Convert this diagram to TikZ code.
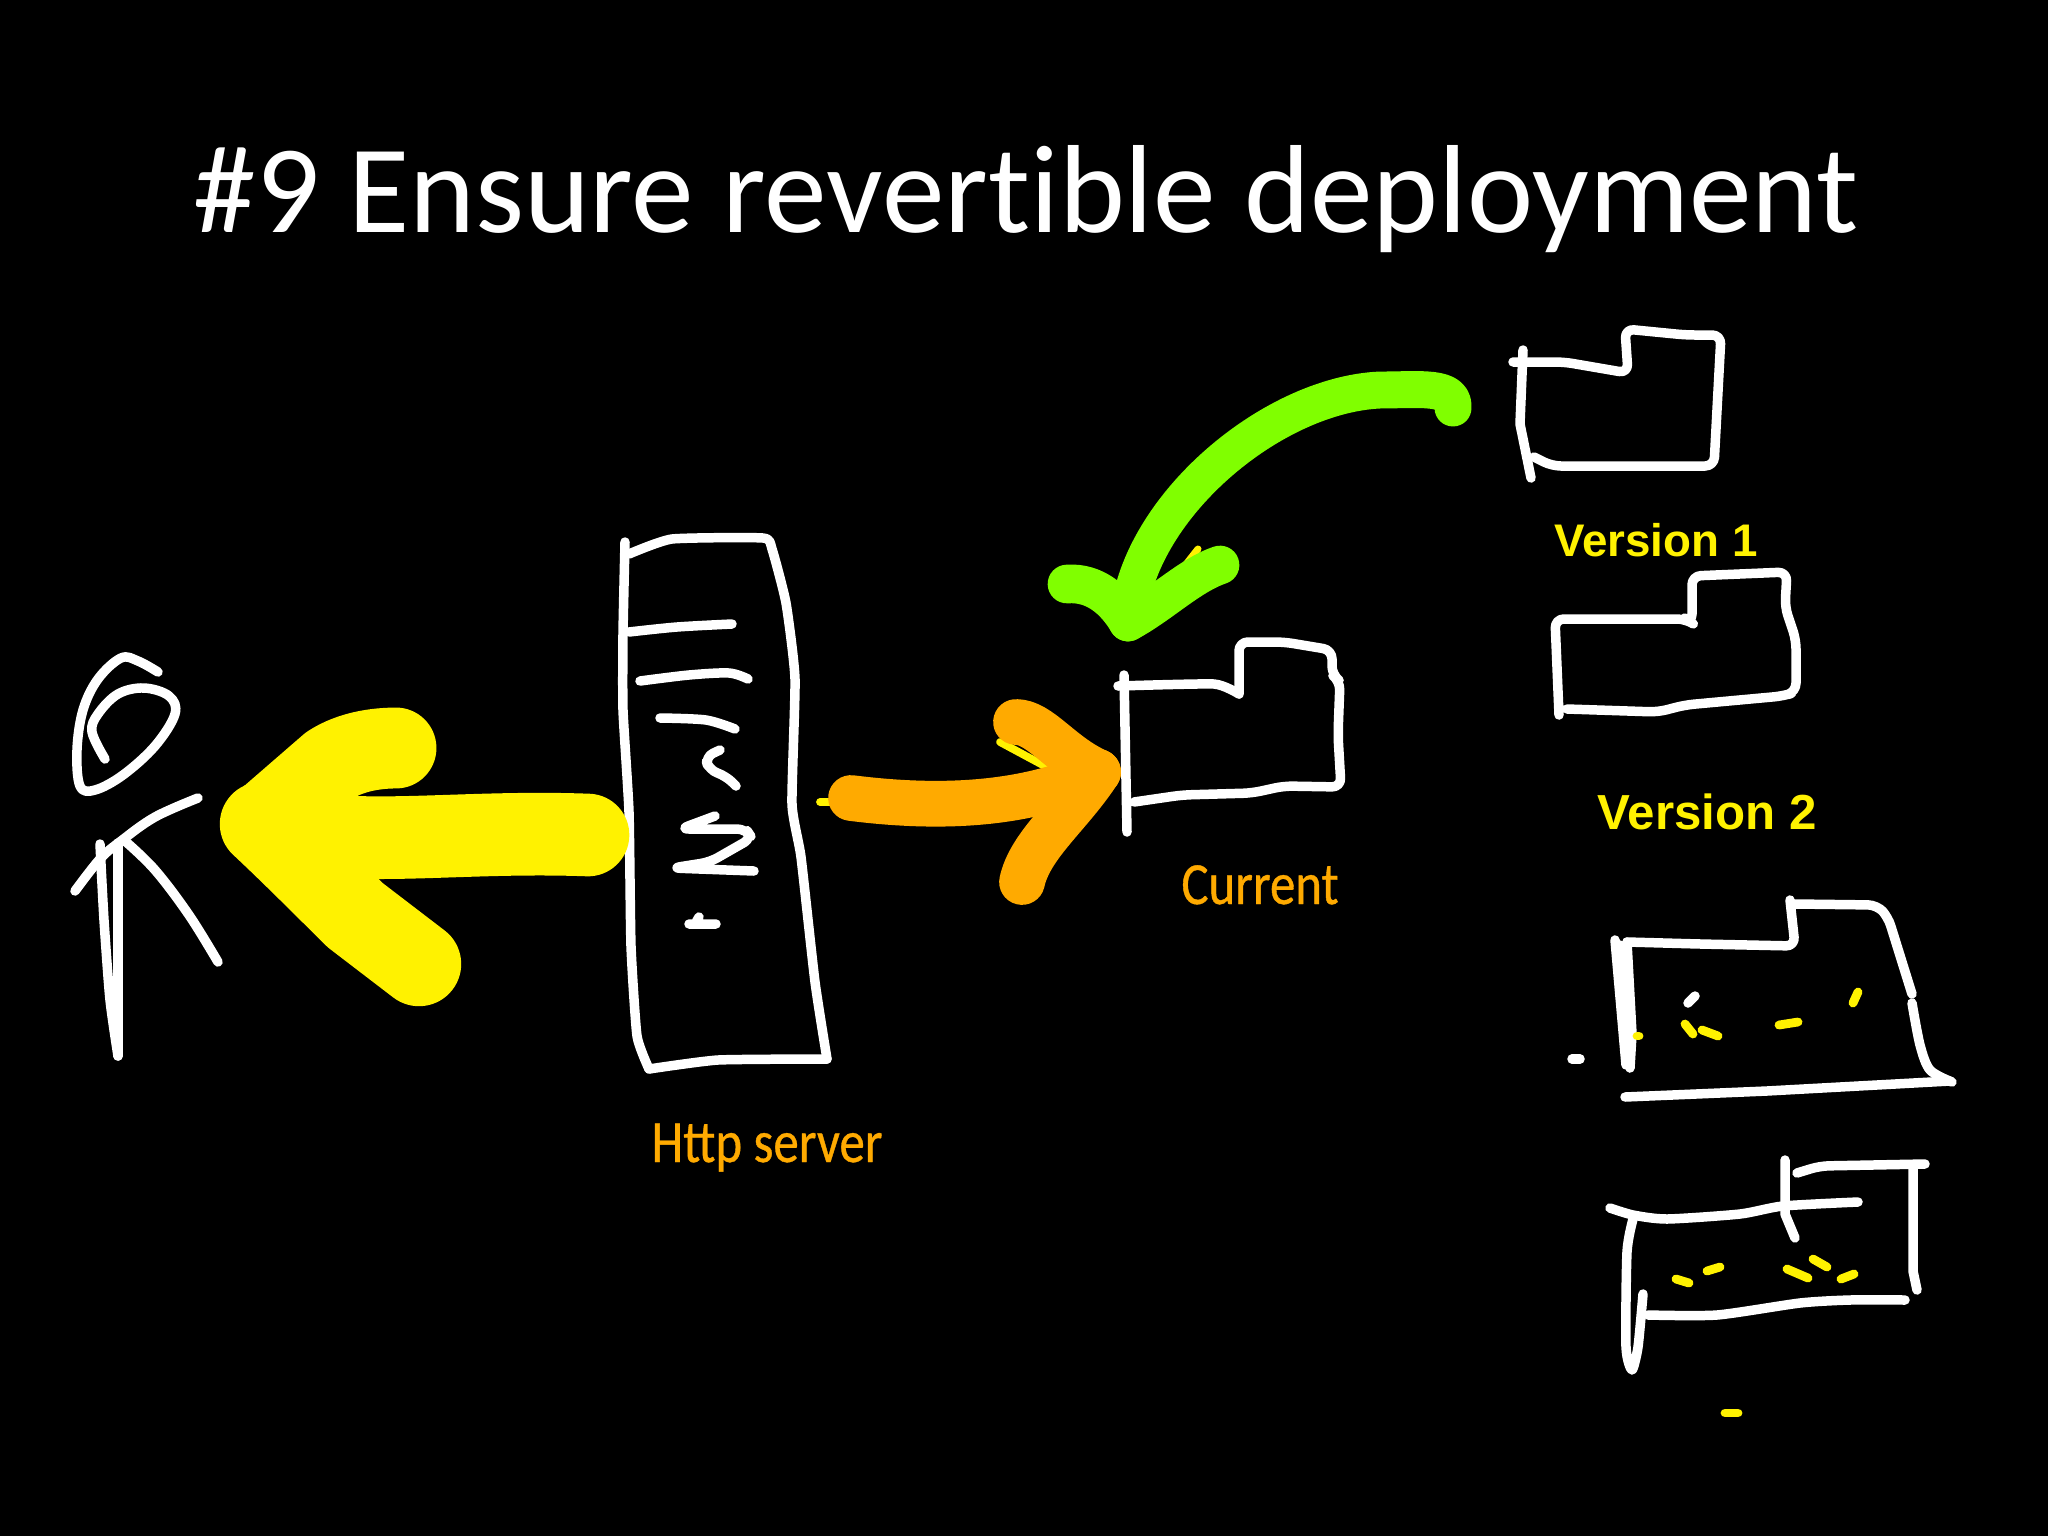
\documentclass[tikz,border=0pt]{standalone}
\usepackage{fontspec}
\setmainfont[Ligatures=NoCommon]{Carlito}
\newfontfamily\labelfont{Liberation Sans}
\newfontfamily\handfont[FakeStretch=0.85,FakeBold=0.6]{Carlito}
\definecolor{penyellow}{HTML}{FFF200}
\definecolor{penorange}{HTML}{FFAA00}
\definecolor{pengreen}{HTML}{80FF00}
\begin{document}
\begin{tikzpicture}[x=0.01cm,y=-0.01cm,
  pen/.style={white,line width=2.7pt,line cap=round,line join=round},
  penbox/.style={pen,rounded corners=2.5pt},
  dot/.style={penyellow,line width=2.5pt,line cap=round},
  bigpen/.style={line width=#1,line cap=round,line join=round},
  version/.style={penyellow,anchor=base,font=\labelfont\bfseries\fontsize{#1}{#1}\selectfont},
  hand/.style={penorange,anchor=base,font=\handfont\fontsize{17}{17}\selectfont}]
\fill[black] (0,0) rectangle (2048,1536);
\useasboundingbox (0,0) rectangle (2048,1536);
\node[white,anchor=base west,inner sep=0pt,font=\fontsize{35.65}{36}\selectfont] (title) at (193,232) {\#9 Ensure revertible deployment};
% person
\draw[pen] plot[smooth,tension=0.6] coordinates {(158,672) (138,661) (121,658) (98,679) (83,710) (77,750) (80,786) (95,790) (123,775) (155,746) (175,714) (169,696) (144,688) (118,694) (98,714) (92,732) (105,759)};
\draw[pen] plot[smooth,tension=0.6] coordinates {(75,891) (100,859) (121,841) (155,817) (198,798)};
\draw[pen] plot[smooth,tension=0.4] coordinates {(100,844) (104,920) (110,1000) (118,1056)};
\draw[pen] (118,1056) -- (118,1000) -- (118,843);
\draw[pen] plot[smooth,tension=0.6] coordinates {(125,841) (155,870) (189,915) (218,962)};
% server
\draw[pen] plot[smooth,tension=0.3] coordinates {(625,542) (623,634) (623,710) (629,812) (631,946) (637,1036) (649,1069)};
\draw[pen] plot[smooth,tension=0.3] coordinates {(649,1069) (718,1060) (827,1059)};
\draw[pen] plot[smooth,tension=0.3] coordinates {(827,1059) (815,982) (801,857) (792,804) (795,679) (786,603) (772,549) (763,538) (672,539) (629,554)};
\draw[pen] plot[smooth,tension=0.5] coordinates {(629,632) (677,627) (732,624)};
\draw[pen] plot[smooth,tension=0.5] coordinates {(640,681) (689,675) (729,673) (748,679)};
\draw[pen] plot[smooth,tension=0.5] coordinates {(660,718) (706,720) (735,729)};
\draw[penbox] (720,750) -- (705,757) -- (709,770) -- (726,776) -- (736,786);
\draw[penbox] (715,816) -- (680,829) -- (746,829) -- (752,838) -- (710,862) -- (672,868) -- (754,871);
\draw[pen] (689,924) -- (716,924) (699,917) -- (695,924);
% yellow arrow
\coordinate (servertail) at (588,835);
\coordinate (persontip) at (262,824);
\draw[penyellow,bigpen=23.5pt] (servertail) .. controls (450,830) and (350,850) .. (persontip);
\draw[penyellow,bigpen=23pt] (persontip) -- (330,765) .. controls (350,752) and (375,748) .. (396,748);
\draw[penyellow,bigpen=24pt] (persontip) .. controls (290,850) and (340,900) .. (355,915) -- (419,964);
% orange arrow
\coordinate (orangetail) at (851,798);
\coordinate (orangetip) at (1098,772);
\draw[penyellow,line width=2.2pt,line cap=round] (820,802) -- (835,802);
\draw[penyellow,line width=2.2pt,line cap=round] (1000,742) -- (1067,778);
\draw[penorange,bigpen=13pt] (orangetail) .. controls (930,808) and (1020,808) .. (orangetip);
\draw[penorange,bigpen=13pt] (1016,722) .. controls (1040,722) and (1060,755) .. (orangetip);
\draw[penorange,bigpen=13pt] (1022,882) .. controls (1030,845) and (1070,815) .. (orangetip);
% green arrow
\coordinate (greentail) at (1453,408);
\coordinate (greentip) at (1128,622);
\draw[penyellow,line width=2pt,line cap=round] (1198,549) -- (1180,572);
\draw[pengreen,bigpen=10.5pt] (greentail) .. controls (1455,385) and (1420,390) .. (1380,390) .. controls (1270,395) and (1135,510) .. (greentip);
\draw[pengreen,bigpen=11pt] (1067,584) .. controls (1095,582) and (1115,600) .. (greentip);
\draw[pengreen,bigpen=11pt] (1220,565) .. controls (1190,575) and (1160,605) .. (greentip);
% current folder
\draw[pen] (1124,675) -- (1127,832);
\draw[pen] plot[smooth,tension=0.3] coordinates {(1118,686) (1214,684) (1239,694)};
\draw[penbox] (1239,694) -- (1239,642) -- (1284,642) -- (1332,650) -- (1332,675) -- (1340,681) -- (1338,735) -- (1341,787) -- (1284,786) -- (1252,793) -- (1182,795) -- (1134,802);
% folder of version 1
\draw[pen] (1523,350) -- (1520,424) -- (1531,478);
\draw[penbox] (1513,362) -- (1564,362) -- (1628,373) -- (1625,329) -- (1686,335) -- (1721,335) -- (1714,466) -- (1552,466) -- (1534,457);
% folder of version 2
\draw[penbox] (1559,715) -- (1555,619) -- (1686,619) -- (1692,623) -- (1692,576) -- (1787,572) -- (1785,607) -- (1796,640) -- (1796,692) -- (1783,696) -- (1685,705) -- (1658,712) -- (1567,709);
% third folder
\draw[pen] (1615,940) -- (1626,1065);
\draw[pen] (1620,945) -- (1628,1060);
\draw[pen] (1627,942) -- (1632,1034) -- (1630,1068);
\draw[penbox] (1627,942) -- (1700,944) -- (1795,946) -- (1790,900);
\draw[penbox] (1795,904) -- (1877,905) -- (1888,917) -- (1912,994);
\draw[pen] plot[smooth,tension=0.5] coordinates {(1912,1003) (1920,1045) (1930,1070) (1952,1082)};
\draw[pen] (1625,1097) -- (1767,1091) -- (1950,1081);
\draw[pen] (1572,1059) -- (1580,1059);
\draw[pen] (1688,1003) -- (1695,996);
\draw[dot] (1637,1036) -- (1639,1036);
\draw[dot] (1685,1024) -- (1693,1034);
\draw[dot] (1702,1030) -- (1718,1036);
\draw[dot] (1779,1025) -- (1798,1022);
\draw[dot] (1858,992) -- (1853,1003);
% fourth folder
\draw[pen] plot[smooth,tension=0.4] coordinates {(1610,1208) (1633,1215) (1667,1219) (1740,1214) (1783,1206) (1858,1202)};
\draw[pen] (1785,1160) -- (1785,1214) -- (1795,1238);
\draw[penbox] (1797,1173) -- (1820,1166) -- (1925,1164);
\draw[pen] (1913,1168) -- (1913,1271) -- (1917,1290);
\draw[pen] plot[smooth,tension=0.4] coordinates {(1633,1219) (1627,1252) (1626,1347) (1632,1370) (1638,1347) (1643,1294)};
\draw[pen] plot[smooth,tension=0.4] coordinates {(1648,1315) (1717,1315) (1800,1303) (1850,1300) (1905,1300)};
\draw[dot] (1676,1279) -- (1689,1283);
\draw[dot] (1707,1271) -- (1720,1267);
\draw[dot] (1787,1269) -- (1808,1278);
\draw[dot] (1813,1259) -- (1827,1267);
\draw[dot] (1841,1279) -- (1854,1274);
\draw[dot] (1725,1413) -- (1738,1413);
% labels
\node[hand,inner sep=0pt] (httplabel) at (767,1162) {Http server};
\node[hand,inner sep=0pt] (currentlabel) at (1260,904) {Current};
\node[version=13,inner sep=0pt] (versiona) at (1656,556) {Version 1};
\node[version=14,inner sep=0pt] (versionb) at (1707,829) {Version 2};
\end{tikzpicture}
\end{document}
